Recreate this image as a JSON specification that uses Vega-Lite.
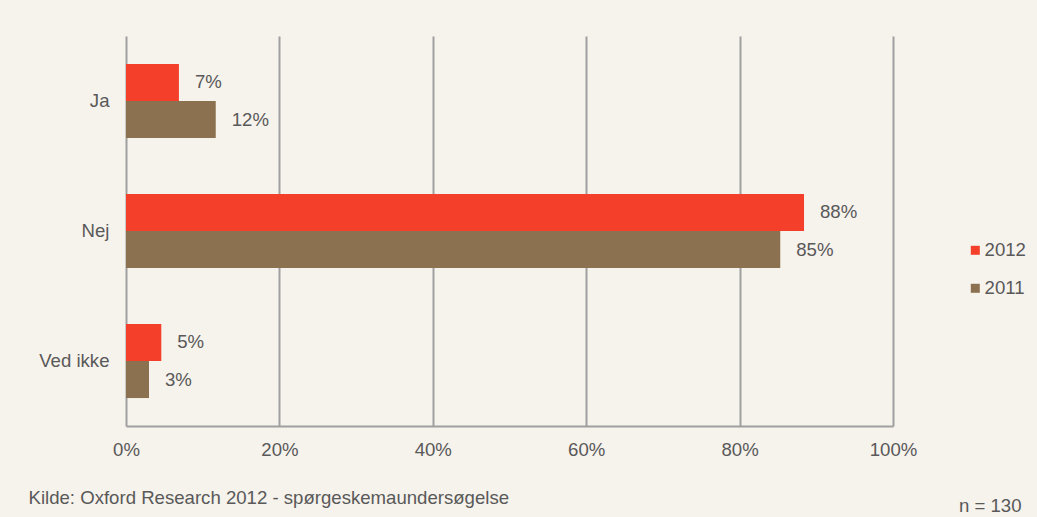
{
  "$schema": "https://vega.github.io/schema/vega-lite/v6.json",
  "width": 767,
  "height": 390,
  "autosize": {"type": "none"},
  "padding": {"left": 126, "top": 36, "right": 144, "bottom": 91},
  "background": "#F6F2EC",
  "data": {
    "values": [
      {"cat": "Ja", "year": "2012", "v": 0.069},
      {"cat": "Ja", "year": "2011", "v": 0.117},
      {"cat": "Nej", "year": "2012", "v": 0.884},
      {"cat": "Nej", "year": "2011", "v": 0.853},
      {"cat": "Ved ikke", "year": "2012", "v": 0.046},
      {"cat": "Ved ikke", "year": "2011", "v": 0.030}
    ]
  },
  "encoding": {
    "y": {
      "field": "cat",
      "type": "nominal",
      "sort": ["Ja", "Nej", "Ved ikke"],
      "scale": {"paddingInner": 0.43, "paddingOuter": 0.215},
      "axis": {
        "ticks": false,
        "domain": false,
        "labelPadding": 17,
        "labelFontSize": 18.6,
        "labelFont": "Liberation Sans",
        "labelColor": "#595959",
        "title": "Kilde: Oxford Research 2012 - spørgeskemaundersøgelse",
        "titleAngle": 0,
        "titleAnchor": null,
        "titleX": -98,
        "titleY": 461,
        "titleAlign": "left",
        "titleBaseline": "middle",
        "titleFont": "Liberation Sans",
        "titleFontSize": 18.6,
        "titleFontWeight": "normal",
        "titleColor": "#595959"
      }
    },
    "yOffset": {"field": "year", "type": "nominal", "sort": ["2012", "2011"]},
    "x": {
      "field": "v",
      "type": "quantitative",
      "scale": {"domain": [0, 1]},
      "axis": {
        "values": [0, 0.2, 0.4, 0.6, 0.8, 1],
        "format": ".0%",
        "labelFlush": false,
        "grid": true,
        "gridColor": "#A0A0A0",
        "gridWidth": 2,
        "domain": true,
        "domainColor": "#A0A0A0",
        "domainWidth": 2,
        "ticks": false,
        "labelPadding": 14,
        "labelFontSize": 18.6,
        "labelFont": "Liberation Sans",
        "labelColor": "#595959",
        "title": "n = 130",
        "titleAnchor": null,
        "titleX": 895,
        "titleY": 79,
        "titleAlign": "right",
        "titleBaseline": "middle",
        "titleFont": "Liberation Sans",
        "titleFontSize": 18.6,
        "titleFontWeight": "normal",
        "titleColor": "#595959"
      }
    }
  },
  "layer": [
    {
      "mark": {"type": "bar"},
      "encoding": {
        "color": {
          "field": "year",
          "type": "nominal",
          "scale": {"domain": ["2012", "2011"], "range": ["#F4402A", "#8C7150"]},
          "legend": {
            "title": null,
            "orient": "none",
            "legendX": 840,
            "legendY": 205,
            "symbolType": "square",
            "symbolSize": 81,
            "symbolStrokeWidth": 0,
            "labelFontSize": 18.6,
            "labelFont": "Liberation Sans",
            "labelColor": "#595959",
            "labelOffset": 0,
            "rowPadding": 19,
            "padding": 0
          }
        }
      }
    },
    {
      "mark": {
        "type": "text",
        "align": "left",
        "baseline": "middle",
        "dx": 16,
        "fontSize": 18.6,
        "font": "Liberation Sans",
        "color": "#595959"
      },
      "encoding": {
        "text": {"field": "v", "type": "quantitative", "format": ".0%"}
      }
    }
  ],
  "config": {"view": {"stroke": null}}
}
